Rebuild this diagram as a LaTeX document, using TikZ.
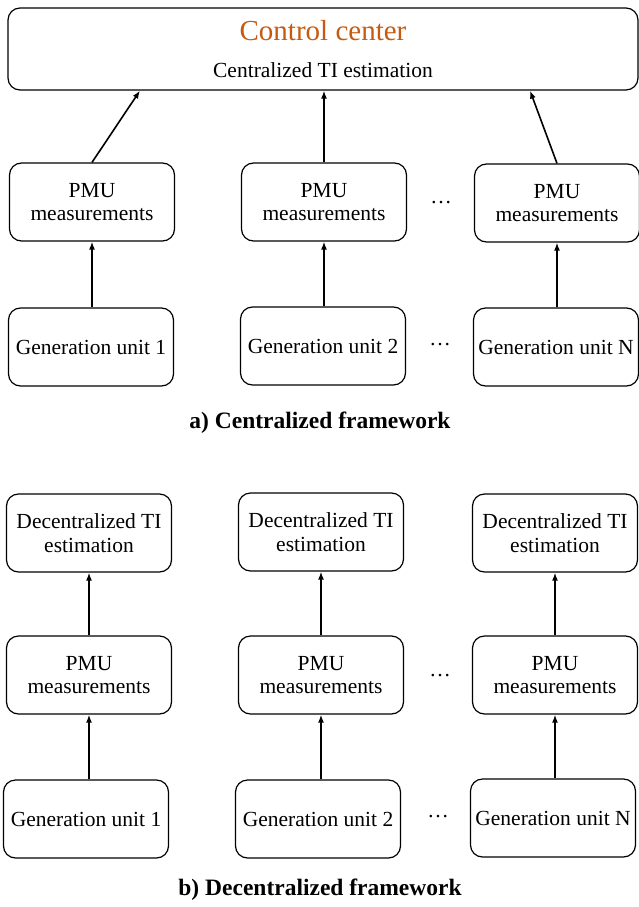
\documentclass[tikz,border=0pt]{standalone}
\usepackage{fontspec}
\setmainfont{Liberation Serif}
\usetikzlibrary{arrows.meta,positioning,calc}

\definecolor{ccorange}{RGB}{197,90,17}

\tikzset{
  unitbox/.style={draw, rounded corners=12pt, line width=1.2pt, align=center,
    minimum width=165pt, minimum height=78pt, inner sep=2pt,
    font=\fontsize{21.5}{23.5}\selectfont},
  ctrlbox/.style={unitbox, minimum width=630pt, minimum height=82pt},
  feed/.style={-{Latex[length=8pt,width=6pt]}, line width=1.6pt},
  gap/.style={font=\fontsize{21.5}{23.5}\selectfont},
  caption/.style={font=\fontsize{23.5}{26}\selectfont\bfseries}
}

\begin{document}
\begin{tikzpicture}[x=1pt,y=-1pt]
\useasboundingbox (0,0) rectangle (639,907);

% a) centralized
\node[ctrlbox]  (ctrl) at (323,49)   {{\color{ccorange}\fontsize{29}{30}\selectfont Control center}\\[13pt]Centralized TI estimation};
\node[unitbox]  (pmu a1) at (92,202)  {PMU\\measurements};
\node[unitbox]  (pmu a2) at (324,202) {PMU\\measurements};
\node[unitbox]  (pmu a3) at (557,203) {PMU\\measurements};
\node[unitbox]  (gen a1) at (91,347)  {Generation unit 1};
\node[unitbox]  (gen a2) at (323,346) {Generation unit 2};
\node[unitbox]  (gen a3) at (556,347) {Generation unit N};
\node[gap]      (dots pa) at (441,203) {\dots};
\node[gap]      (dots ga) at (440,345) {\dots};
\node[caption]  (cap a) at (320,423) {a) Centralized framework};

\coordinate (in a1) at ($(ctrl.south)+(-183,0)$);
\coordinate (in a3) at ($(ctrl.south)+(207,0)$);
\draw [feed] (pmu a1.north) -- (in a1);
\draw [feed] (pmu a2.north) -- (pmu a2.north |- ctrl.south);
\draw [feed] (pmu a3.north) -- (in a3);
\draw [feed] (gen a1.north -| pmu a1.south) -- (pmu a1.south);
\draw [feed] (gen a2.north -| pmu a2.south) -- (pmu a2.south);
\draw [feed] (gen a3.north -| pmu a3.south) -- (pmu a3.south);

% b) decentralized
\node[unitbox]  (dec b1) at (89,533)  {Decentralized TI\\estimation};
\node[unitbox]  (dec b2) at (321,532) {Decentralized TI\\estimation};
\node[unitbox]  (dec b3) at (555,533) {Decentralized TI\\estimation};
\node[unitbox]  (pmu b1) at (89,675)  {PMU\\measurements};
\node[unitbox]  (pmu b2) at (321,675) {PMU\\measurements};
\node[unitbox]  (pmu b3) at (555,675) {PMU\\measurements};
\node[unitbox]  (gen b1) at (86,819)  {Generation unit 1};
\node[unitbox]  (gen b2) at (318,819) {Generation unit 2};
\node[unitbox]  (gen b3) at (553,818) {Generation unit N};
\node[gap]      (dots pb) at (440,676) {\dots};
\node[gap]      (dots gb) at (438,817) {\dots};
\node[caption]  (cap b) at (320,890) {b) Decentralized framework};

\draw [feed] (pmu b1.north) -- (dec b1.south);
\draw [feed] (pmu b2.north) -- (dec b2.south);
\draw [feed] (pmu b3.north) -- (dec b3.south);
\draw [feed] (gen b1.north -| pmu b1.south) -- (pmu b1.south);
\draw [feed] (gen b2.north -| pmu b2.south) -- (pmu b2.south);
\draw [feed] (gen b3.north -| pmu b3.south) -- (pmu b3.south);
\end{tikzpicture}
\end{document}
